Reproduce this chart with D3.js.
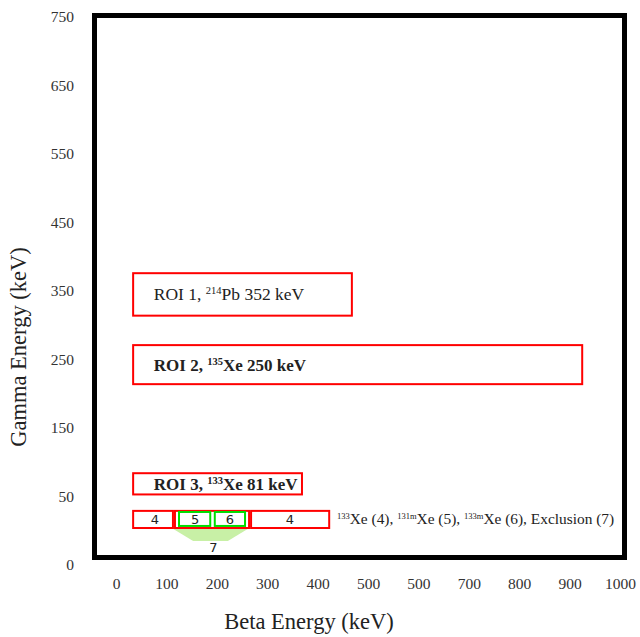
<!DOCTYPE html>
<html>
<head>
<meta charset="utf-8">
<script src="https://cdn.jsdelivr.net/npm/d3@7"></script>
<style>
  body { margin: 0; background: #fff; }
  text { font-family: "Liberation Serif", "Times New Roman", serif; }
</style>
</head>
<body>
<div id="chart-area"></div>
<script>
// ---------------------------//
//            DATA            //
// ---------------------------//

// tick labels as printed on the original (note the repeated 500)
const xTickValues = [0, 100, 200, 300, 400, 500, 600, 700, 800, 900, 1000]
const xTickLabels = ["0", "100", "200", "300", "400", "500", "500", "700", "800", "900", "1000"]
const yTickValues = [0, 50, 150, 250, 350, 450, 550, 650, 750]

// ROI boxes: beta range [keV], gamma range [keV], label parts
const roiNames   = ["ROI 1, ", "ROI 2, ", "ROI 3, "]
const roiIsotope = [["214", "Pb 352 keV"], ["135", "Xe 250 keV"], ["133", "Xe 81 keV"]]
const roiBeta    = [[34, 468], [34, 925], [34, 369]]
const roiGamma   = [[314, 376], [214, 271], [53, 84]]
const roiBold    = [false, true, true]

// 133Xe / 131mXe / 133mXe region row
const rowBeta    = [[34, 113], [117, 264], [268, 423]]
const rowGamma   = [27, 39.5]
const greenBeta  = [[125, 187], [196, 256]]
const greenGamma = [28.5, 38.7]
const cellLabels = ["4", "5", "6", "4"]
const cellBeta   = [77, 157, 226, 345]

// exclusion wedge (7)
const exclTopBeta = [113, 262]
const exclBotBeta = [153, 222]
const exclGamma   = [26.5, 17.5]

// ---------------------------//
//       AXIS AND SCALE       //
// ---------------------------//

const svg = d3.select("#chart-area").append("svg")
    .attr("width", 640)
    .attr("height", 637)

const xScale = d3.scaleLinear()
    .domain([0, 1000])
    .range([116, 620])

// tick labels are equally spaced on the page, so the gamma scale is piecewise
const yScale = d3.scaleLinear()
    .domain(yTickValues)
    .range(yTickValues.map((d, i) => 565 - i * 68.5))

// frame
svg.append("rect")
    .attr("x", 94.5).attr("y", 15.5)
    .attr("width", 530).attr("height", 542)
    .attr("fill", "none")
    .attr("stroke", "#000")
    .attr("stroke-width", 5)

const xAxis = d3.axisBottom(xScale)
    .tickValues(xTickValues)
    .tickFormat((d, i) => xTickLabels[i])
    .tickSize(0)

svg.append("g")
    .attr("transform", "translate(0,575)")
    .call(xAxis)
    .call(g => g.select(".domain").remove())
    .selectAll("text")
      .attr("font-size", 15.5)
      .attr("fill", "#333")

const yAxis = d3.axisLeft(yScale)
    .tickValues(yTickValues)
    .tickSize(0)

svg.append("g")
    .attr("transform", "translate(77,0)")
    .call(yAxis)
    .call(g => g.select(".domain").remove())
    .selectAll("text")
      .attr("font-size", 15.5)
      .attr("fill", "#333")

svg.append("text")
    .attr("x", 309).attr("y", 629)
    .attr("text-anchor", "middle")
    .attr("font-size", 22.5)
    .attr("fill", "#222")
    .text("Beta Energy (keV)")

svg.append("text")
    .attr("transform", "translate(26,347) rotate(-90)")
    .attr("text-anchor", "middle")
    .attr("font-size", 22.5)
    .attr("fill", "#222")
    .text("Gamma Energy (keV)")

// ---------------------------//
//          ROI BOXES         //
// ---------------------------//

const rois = roiNames.map((n, i) => ({name: n, iso: roiIsotope[i], beta: roiBeta[i], gamma: roiGamma[i], bold: roiBold[i]}))

svg.selectAll(".roi")
    .data(rois)
    .enter()
    .append("rect")
    .attr("class", "roi")
    .attr("x", d => xScale(d.beta[0]))
    .attr("y", d => yScale(d.gamma[1]))
    .attr("width", d => xScale(d.beta[1]) - xScale(d.beta[0]))
    .attr("height", d => yScale(d.gamma[0]) - yScale(d.gamma[1]))
    .attr("fill", "none")
    .attr("stroke", "#ff0000")
    .attr("stroke-width", 2)

const roiText = svg.selectAll(".roi-label")
    .data(rois)
    .enter()
    .append("text")
    .attr("class", "roi-label")
    .attr("x", xScale(75))
    .attr("y", d => yScale((d.gamma[0] + d.gamma[1]) / 2) + 6)
    .attr("font-size", d => d.bold ? 17 : 17.5)
    .attr("font-weight", d => d.bold ? "bold" : "normal")
    .attr("fill", "#222")

roiText.append("tspan").text(d => d.name)
roiText.append("tspan").attr("font-size", 10.5).attr("dy", -6).text(d => d.iso[0])
roiText.append("tspan").attr("dy", 6).text(d => d.iso[1])

// ---------------------------//
//     XENON REGION ROW       //
// ---------------------------//

// exclusion wedge first so the boxes sit on top
svg.append("path")
    .datum([[exclTopBeta[0], exclGamma[0]], [exclTopBeta[1], exclGamma[0]],
            [exclBotBeta[1], exclGamma[1]], [exclBotBeta[0], exclGamma[1]]])
    .attr("d", d => d3.line().x(p => xScale(p[0])).y(p => yScale(p[1]))(d) + "Z")
    .attr("fill", "#c8f0a6")

svg.selectAll(".row-box")
    .data(rowBeta)
    .enter()
    .append("rect")
    .attr("class", "row-box")
    .attr("x", d => xScale(d[0]))
    .attr("y", yScale(rowGamma[1]))
    .attr("width", d => xScale(d[1]) - xScale(d[0]))
    .attr("height", yScale(rowGamma[0]) - yScale(rowGamma[1]))
    .attr("fill", "none")
    .attr("stroke", "#ff0000")
    .attr("stroke-width", 2)

svg.selectAll(".green-box")
    .data(greenBeta)
    .enter()
    .append("rect")
    .attr("class", "green-box")
    .attr("x", d => xScale(d[0]))
    .attr("y", yScale(greenGamma[1]))
    .attr("width", d => xScale(d[1]) - xScale(d[0]))
    .attr("height", yScale(greenGamma[0]) - yScale(greenGamma[1]))
    .attr("fill", "none")
    .attr("stroke", "#00dd00")
    .attr("stroke-width", 2)

svg.selectAll(".cell-label")
    .data(cellLabels)
    .enter()
    .append("text")
    .attr("class", "cell-label")
    .attr("x", (d, i) => xScale(cellBeta[i]))
    .attr("y", yScale((rowGamma[0] + rowGamma[1]) / 2) + 5)
    .attr("text-anchor", "middle")
    .style("font-family", "DejaVu Sans")
    .attr("font-size", 13)
    .attr("fill", "#222")
    .text(d => d)

svg.append("text")
    .attr("x", xScale(193))
    .attr("y", 552)
    .attr("text-anchor", "middle")
    .style("font-family", "DejaVu Sans")
    .attr("font-size", 13)
    .attr("fill", "#222")
    .text("7")

// legend note to the right of the row
const note = svg.append("text")
    .attr("x", 337)
    .attr("y", yScale((rowGamma[0] + rowGamma[1]) / 2) + 5)
    .attr("font-size", 15.4)
    .attr("fill", "#222")

const noteParts = [["133", "Xe (4), "], ["131m", "Xe (5), "], ["133m", "Xe (6), Exclusion (7)"]]
noteParts.forEach(p => {
    note.append("tspan").attr("font-size", 8.5).attr("dy", -5).text(p[0])
    note.append("tspan").attr("dy", 5).text(p[1])
})
</script>
</body>
</html>
